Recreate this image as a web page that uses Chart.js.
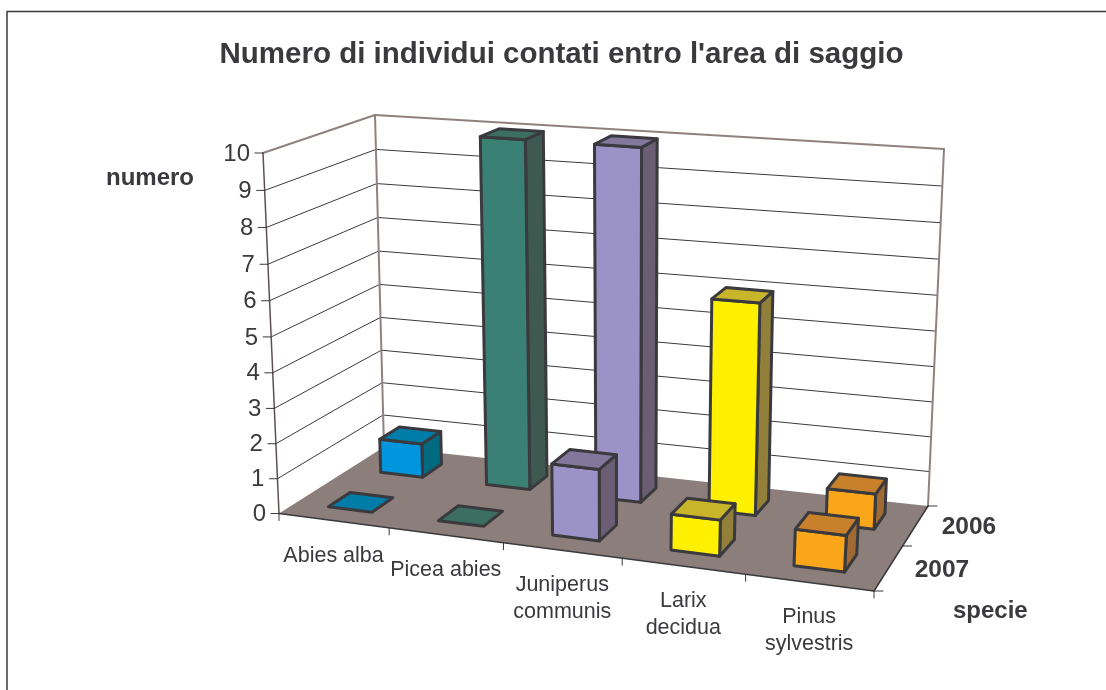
<!DOCTYPE html>
<html>
<head>
<meta charset="utf-8">
<title>Numero di individui</title>
<script src="https://cdn.jsdelivr.net/npm/chart.js@4"></script>
<style>
    html, body { margin: 0; padding: 0; background: #fff; }
    canvas { display: block; }
</style>
</head>
<body>
<canvas id="grafico" width="1106" height="690"></canvas>
<script>
// Data
const categorie = ['Abies alba', 'Picea abies', ['Juniperus', 'communis'], ['Larix', 'decidua'], ['Pinus', 'sylvestris']];
const serie = ['2006', '2007'];
const valori2006 = [1, 10, 10, 6, 1];
const valori2007 = [0, 0, 2, 1, 1];
const tickValori = { min: 0, max: 10, step: 1 };

// Colours per species
const coloreFronte = ['#0095dd', '#3a8074', '#9b92c8', '#fff000', '#faa61a'];
const coloreSopra = ['#007ca8', '#3c6e62', '#83789c', '#c9b52a', '#c8812a'];
const coloreLato = ['#006a80', '#3e5a50', '#6b5e74', '#92803a', '#a06a34'];
const scuro = '#3a3a3e';
const pareteBordo = '#8f827e';
const pavimento = '#8c7e7a';

// Corners of the 3D box on the page: front-left, front-right, back-right, back-left
const angoliBase = [[279, 513.5], [874, 591], [928, 506], [384, 447]];
const angoliCima = [[263, 153], [897, 205], [944, 149], [375, 115]];

// unit square -> quad
function omografia(q) {
    const [x0, y0] = q[0], [x1, y1] = q[1], [x2, y2] = q[2], [x3, y3] = q[3];
    const dx1 = x1 - x2, dx2 = x3 - x2, sx = x0 - x1 + x2 - x3;
    const dy1 = y1 - y2, dy2 = y3 - y2, sy = y0 - y1 + y2 - y3;
    const d = dx1 * dy2 - dx2 * dy1;
    const g = (sx * dy2 - dx2 * sy) / d;
    const h = (dx1 * sy - sx * dy1) / d;
    return function (u, v) {
        const k = g * u + h * v + 1;
        return [((x1 - x0 + g * x1) * u + (x3 - x0 + h * x3) * v + x0) / k,
                ((y1 - y0 + g * y1) * u + (y3 - y0 + h * y3) * v + y0) / k];
    };
}
const base3d = omografia(angoliBase);
const cima3d = omografia(angoliCima);

// less foreshortening along the species axis
function allarga(u, c) {
    return (1 + c) * u / (1 + c * u);
}

// u along species, v towards the back, w height (all 0..1)
function proietta(u, v, w) {
    const a = 0.96;
    const t = a * w / (1 + (a - 1) * w);
    const p = base3d(allarga(u, 0.06), v), q = cima3d(allarga(u, 0.15), v);
    return [p[0] + (q[0] - p[0]) * t, p[1] + (q[1] - p[1]) * t];
}

function poligono(ctx, punti, fill, stroke, lw) {
    ctx.beginPath();
    punti.forEach((p, i) => i ? ctx.lineTo(p[0], p[1]) : ctx.moveTo(p[0], p[1]));
    ctx.closePath();
    if (fill) { ctx.fillStyle = fill; ctx.fill(); }
    if (stroke) { ctx.strokeStyle = stroke; ctx.lineWidth = lw; ctx.stroke(); }
}

function linea(ctx, a, b, colore, lw) {
    ctx.beginPath();
    ctx.moveTo(a[0], a[1]);
    ctx.lineTo(b[0], b[1]);
    ctx.strokeStyle = colore;
    ctx.lineWidth = lw;
    ctx.stroke();
}

function testo(ctx, s, x, y, font, align) {
    ctx.font = font;
    ctx.fillStyle = scuro;
    ctx.textAlign = align;
    ctx.textBaseline = 'middle';
    ctx.fillText(s, x, y + 1);
}

const grafico3d = {
    id: 'grafico3d',
    beforeDatasetsDraw(chart) {
        const ctx = chart.ctx;
        const area = chart.chartArea;
        const sy = chart.scales.y, sx = chart.scales.x, sz = chart.scales.profondita;
        const altezza = val => (area.bottom - sy.getPixelForValue(val)) / area.height;
        const lungo = px => (px - area.left) / area.width;
        const fondo = px => (area.bottom - px) / area.height;

        ctx.save();
        ctx.lineJoin = 'round';
        ctx.lineCap = 'round';

        // frame
        ctx.beginPath();
        ctx.moveTo(7, 690);
        ctx.lineTo(7, 11.5);
        ctx.lineTo(1106, 11.5);
        ctx.strokeStyle = scuro;
        ctx.lineWidth = 1.5;
        ctx.stroke();

        // floor
        poligono(ctx, [proietta(0, 0, 0), proietta(1, 0, 0), proietta(1, 1, 0), proietta(0, 1, 0)], pavimento);

        // gridlines on the two walls
        sy.ticks.forEach(t => {
            if (t.value === tickValori.min || t.value === tickValori.max) return;
            const w = altezza(t.value);
            linea(ctx, proietta(0, 0, w), proietta(0, 1, w), scuro, 1);
            linea(ctx, proietta(0, 1, w), proietta(1, 1, w), scuro, 1);
        });

        // wall edges
        linea(ctx, proietta(0, 1, 0), proietta(0, 1, 1), pareteBordo, 2);
        linea(ctx, proietta(1, 1, 0), proietta(1, 1, 1), pareteBordo, 2);
        linea(ctx, proietta(0, 0, 1), proietta(0, 1, 1), pareteBordo, 2);
        linea(ctx, proietta(0, 1, 1), proietta(1, 1, 1), pareteBordo, 2);
        linea(ctx, proietta(0, 0, 0), proietta(0, 0, 1), '#5c5150', 1.5);

        // front and right edges of the floor
        linea(ctx, proietta(0, 0, 0), proietta(1, 0, 0), scuro, 1.5);
        linea(ctx, proietta(1, 0, 0), proietta(1, 1, 0), scuro, 1.5);

        // boxes, back series first
        const metaDietro = chart.getDatasetMeta(0), metaDavanti = chart.getDatasetMeta(1);
        const passoZ = Math.abs(sz.getPixelForValue(1) - sz.getPixelForValue(0)) / area.height;
        const mezzo = passoZ * 0.4 / 2;
        [metaDietro, metaDavanti].forEach((meta, s) => {
            const vc = fondo(sz.getPixelForValue(s));
            meta.data.forEach((bar, i) => {
                const u0 = lungo(bar.x - bar.width / 2), u1 = lungo(bar.x + bar.width / 2);
                const v0 = vc - mezzo, v1 = vc + mezzo;
                const w = fondo(bar.y);
                const a = proietta(u0, v0, 0), b = proietta(u1, v0, 0), c = proietta(u1, v1, 0);
                const at = proietta(u0, v0, w), bt = proietta(u1, v0, w), ct = proietta(u1, v1, w), dt = proietta(u0, v1, w);
                if (w > 0) {
                    poligono(ctx, [b, c, ct, bt], coloreLato[i], scuro, 3);
                    poligono(ctx, [a, b, bt, at], coloreFronte[i], scuro, 3);
                }
                poligono(ctx, [at, bt, ct, dt], coloreSopra[i], scuro, 3);
            });
        });

        // y ticks and labels
        sy.ticks.forEach(t => {
            const p = proietta(0, 0, altezza(t.value));
            linea(ctx, p, [p[0] - 8, p[1]], scuro, 1);
            testo(ctx, t.label, p[0] - 13, p[1], '24px "Liberation Sans"', 'right');
        });

        // species ticks and labels
        for (let i = 0; i <= categorie.length; i++) {
            const p = proietta(i / categorie.length, 0, 0);
            linea(ctx, p, [p[0], p[1] + 7], scuro, 1);
        }
        categorie.forEach((c, i) => {
            const p = proietta(lungo(sx.getPixelForValue(i)), 0, 0);
            [].concat(c).forEach((riga, r) => {
                testo(ctx, riga, p[0], p[1] + 34 + r * 26.5, '21.5px "Liberation Sans"', 'center');
            });
        });

        // series ticks and labels
        [0, 0.5, 1].forEach(v => {
            const p = proietta(1, v, 0);
            linea(ctx, p, [p[0] + 9, p[1]], scuro, 1);
        });
        serie.forEach((s, i) => {
            const p = proietta(1, fondo(sz.getPixelForValue(i)), 0);
            testo(ctx, s, p[0] + 26, p[1] + 1, 'bold 24.5px "Liberation Sans"', 'left');
        });

        // axis names
        testo(ctx, 'numero', 106, 177, 'bold 24px "Liberation Sans"', 'left');
        testo(ctx, 'specie', 953, 610, 'bold 24px "Liberation Sans"', 'left');

        ctx.restore();
        return false;
    }
};

new Chart(document.getElementById('grafico'), {
    type: 'bar',
    data: {
        labels: categorie,
        datasets: [
            { label: serie[0], data: valori2006, backgroundColor: coloreFronte, grouped: false, barPercentage: 0.4, categoryPercentage: 1 },
            { label: serie[1], data: valori2007, backgroundColor: coloreFronte, grouped: false, barPercentage: 0.4, categoryPercentage: 1 }
        ]
    },
    options: {
        responsive: false,
        animation: false,
        layout: { padding: { left: 17, right: 0, top: 0, bottom: 40 } },
        plugins: {
            legend: { display: false },
            tooltip: { enabled: false },
            title: {
                display: true,
                text: "Numero di individui contati entro l'area di saggio",
                color: scuro,
                font: { family: '"Liberation Sans"', size: 29.5, weight: 'bold' },
                padding: { top: 37, bottom: 19 }
            }
        },
        scales: {
            x: { display: false, offset: true },
            y: { display: false, min: tickValori.min, max: tickValori.max, ticks: { stepSize: tickValori.step } },
            profondita: { type: 'category', axis: 'y', position: 'right', labels: serie, offset: true, display: false }
        }
    },
    plugins: [grafico3d]
});
</script>
</body>
</html>
